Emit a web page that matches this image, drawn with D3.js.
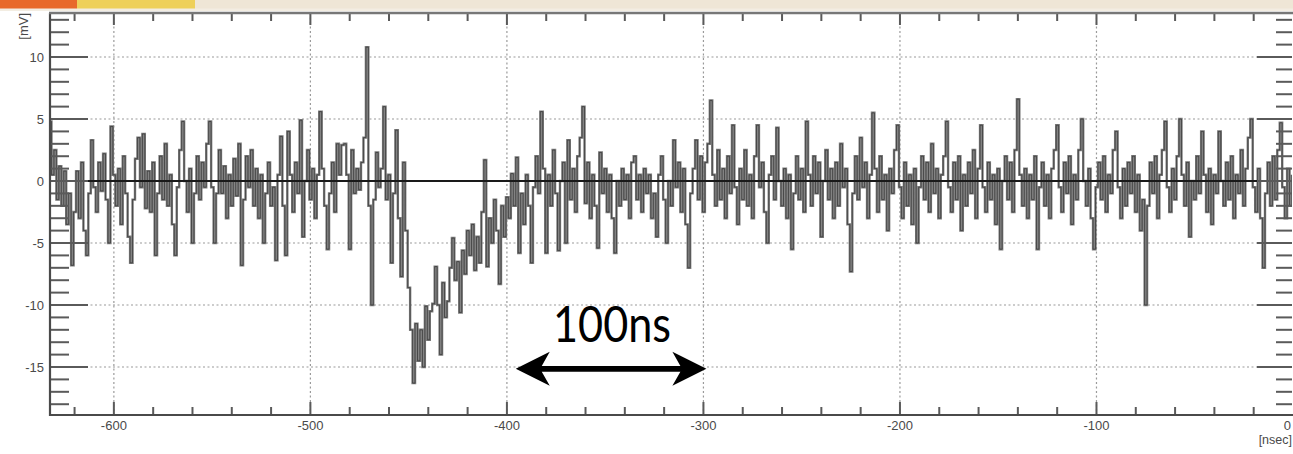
<!DOCTYPE html>
<html><head><meta charset="utf-8">
<script src="https://cdn.jsdelivr.net/npm/d3@7"></script>
<style>html,body{margin:0;padding:0;background:#fff;overflow:hidden}svg{display:block}</style>
</head><body>
<svg id="c" width="1293" height="454"></svg>
<script>
// ---------- data ----------
const xMajorTicks = [-600, -500, -400, -300, -200, -100, 0];
const xTickLabels = ["-600", "-500", "-400", "-300", "-200", "-100", "0"];
const yMajorTicks = [-15, -10, -5, 0, 5, 10];
const yTickLabels = ["-15", "-10", "-5", "0", "5", "10"];
const xTitle = "[nsec]";
const yTitle = "[mV]";
const sampleStartNs = -633;
const sampleStepNs = 1.25;
const signalMv = [
  4.8,0.5,2.5,-1.5,1.2,-2.0,0.8,-3.5,-1.0,-6.8,-2.5,0.8,-3.0,1.5,-4.0,-6.0,-1.0,3.3,-0.5,-2.5,
  1.5,-0.8,2.2,-1.5,-5.0,4.4,0.5,-2.0,1.0,-3.5,2.0,-1.0,-4.5,-6.6,-1.5,1.8,3.5,-0.5,3.8,-2.2,
  0.8,-2.5,1.5,-6.0,-1.0,2.0,-1.5,3.0,-2.0,0.5,-3.5,-6.0,-0.5,2.5,4.8,0.0,-2.5,1.0,-5.0,-1.0,
  2.0,-1.5,1.5,-0.5,3.0,4.8,-0.5,-5.0,-1.0,2.5,-1.0,1.2,-3.0,0.5,-2.0,1.8,-1.2,3.0,-6.8,-1.5,
  2.0,-0.5,2.5,-2.0,1.0,-3.0,0.5,-5.0,-1.0,1.5,-2.0,-0.5,-6.4,0.5,3.6,-2.0,-6.0,4.0,0.5,-2.5,
  1.5,-1.0,4.9,-4.5,0.0,2.5,-1.5,1.0,-3.0,0.5,5.6,1.0,-2.0,-5.5,-1.0,1.5,-2.5,3.0,0.5,2.9,
  3.0,0.5,-5.5,2.5,-1.0,1.0,-0.7,1.5,3.5,10.8,-2.0,-10.0,-1.5,2.3,-0.5,1.0,6.0,-1.5,0.5,-6.6,
  -1.0,4.1,-3.0,-7.7,1.5,-4.0,-8.6,-12.0,-16.3,-11.5,-14.5,-12.0,-15.0,-10.1,-12.8,-10.5,-9.9,-6.9,-10.0,-14.0,
  -8.2,-11.0,-9.7,-7.0,-4.6,-8.0,-6.5,-10.6,-5.6,-7.5,-4.0,-6.0,-3.5,-7.2,-4.5,-6.6,-2.5,1.7,-6.9,-3.0,
  -5.0,-1.5,-4.0,-8.3,-2.0,-4.5,-1.3,-3.0,0.6,-2.0,1.9,-5.8,-1.0,-3.5,0.5,-2.0,-6.6,-0.5,2.0,-1.0,
  5.6,1.0,-5.8,0.5,-2.0,2.5,-1.0,-5.6,0.0,1.5,-5.0,3.3,-1.5,1.0,-2.5,2.0,3.5,6.0,-1.8,1.5,
  -3.0,0.5,-2.0,-5.4,2.3,-1.0,1.0,-2.5,0.5,-3.0,-5.8,0.0,-2.0,1.0,-1.5,0.5,-3.0,1.5,2.0,-1.5,
  0.5,-2.5,1.0,-1.0,0.5,-3.0,-1.0,-4.5,0.5,2.0,-1.5,-5.0,0.0,-2.0,3.3,-0.5,1.5,-2.5,1.0,-3.5,
  -7.0,-1.0,1.0,3.3,-1.5,2.0,-2.5,1.5,3.0,6.5,0.5,-2.0,2.5,-1.5,1.0,-3.0,2.0,-1.0,4.5,-0.5,
  -3.5,1.0,-1.5,2.5,-2.0,0.5,-3.0,2.0,4.5,-0.5,1.5,-2.5,-5.0,0.5,2.0,-1.5,4.3,0.0,-2.0,1.0,
  -3.0,0.5,-5.5,-1.0,2.0,-1.5,1.0,-2.5,4.8,0.5,-2.0,2.0,-1.0,1.5,-4.5,0.0,2.5,-1.5,1.0,-3.0,
  1.5,-2.0,3.0,-0.5,1.0,-3.5,-7.3,-1.0,2.0,-1.5,3.5,-0.5,1.5,-3.0,0.5,5.5,1.0,-2.5,2.0,-1.5,
  0.5,-4.0,1.0,-1.0,2.5,4.5,-0.5,-3.0,1.5,-2.0,0.5,-3.5,1.0,-5.0,-0.5,2.0,-1.5,1.5,-2.5,3.0,
  -1.0,1.0,-3.0,0.5,2.0,4.8,-0.5,-2.5,1.5,-1.5,2.0,-4.0,0.5,-2.0,1.5,-1.0,2.5,-3.0,1.0,4.5,
  -0.5,-2.5,1.5,-1.5,0.5,-3.5,1.0,-5.5,0.0,2.0,-1.5,1.5,-2.5,2.5,6.6,0.5,-2.0,1.0,-3.0,0.5,
  -1.5,2.0,-5.5,-0.5,1.5,-2.0,0.5,-3.0,1.0,2.5,4.5,-0.5,-2.5,1.5,-1.0,2.0,-3.5,0.5,-1.5,2.5,
  5.0,0.0,-2.0,1.0,-3.0,-5.5,-0.5,1.5,-1.5,2.0,-2.5,0.5,-1.0,2.5,4.0,-0.5,-3.0,1.0,-2.0,1.5,
  -1.0,2.0,-2.5,0.5,-4.0,-1.5,-10.0,-2.0,1.5,-1.0,2.0,-3.0,0.5,2.5,4.8,-0.5,-2.5,1.0,-1.5,2.0,
  5.0,0.5,-2.0,1.5,-4.5,0.0,-1.5,2.0,-1.0,4.0,0.5,-2.5,1.0,-3.5,0.5,-1.0,4.0,0.0,-2.0,1.5,
  -1.5,2.0,-3.0,0.5,-1.0,2.5,-2.0,1.0,3.5,5.0,-0.5,-2.5,1.0,-3.0,-7.0,-1.0,1.5,-2.0,2.0,-1.5,
  2.5,4.7,-0.5,-3.0,1.0,-2.0,0.5
];
const scaleBarNs = [-395.5, -298.5];
const scaleBarMv = -15.15;
const scaleBarLabel = "100ns";

// ---------- layout ----------
const W = 1293, H = 454;
const L = 50, R = 1292, T = 13, B = 415;
const svg = d3.select("#c");

const defs = svg.append("defs");
defs.append("filter").attr("id","soft").attr("x","-1%").attr("y","-5%").attr("width","102%").attr("height","110%")
  .append("feGaussianBlur").attr("stdDeviation",0.45);

// top strip
svg.append("rect").attr("x",0).attr("y",0).attr("width",W).attr("height",11).attr("fill","#f3ede2");
svg.append("rect").attr("x",0).attr("y",0).attr("width",77).attr("height",8.5).attr("fill","#e8692b");
svg.append("rect").attr("x",77).attr("y",0).attr("width",118).attr("height",8.5).attr("fill","#eed05a");
svg.append("rect").attr("x",195).attr("y",0).attr("width",W-195).attr("height",8.5).attr("fill","#efe6d6");

const x = d3.scaleLinear().domain([-632.5, 0]).range([L, 1293]);
const y = d3.scaleLinear().domain([-18.87, 13.55]).range([B, T]);

// plot background
svg.append("rect").attr("x",L).attr("y",T).attr("width",R-L).attr("height",B-T).attr("fill","#fff");

defs.append("clipPath").attr("id","pc").append("rect")
  .attr("x",L).attr("y",T).attr("width",R-L).attr("height",B-T);

// grid
const grid = svg.append("g");
grid.selectAll("line.gx").data(xMajorTicks.filter(d => d > -632 && d < 0)).join("line")
  .attr("x1", d => x(d)).attr("x2", d => x(d)).attr("y1", T).attr("y2", B)
  .attr("stroke","#9a9a9a").attr("stroke-width",1.2).attr("stroke-dasharray","2,2.5");
grid.selectAll("line.gy").data(yMajorTicks.filter(d => d !== 0)).join("line")
  .attr("x1", L).attr("x2", R).attr("y1", d => y(d)).attr("y2", d => y(d))
  .attr("stroke","#9a9a9a").attr("stroke-width",1.2).attr("stroke-dasharray","2,2.5");

// trace
const pts = signalMv.map((v, i) => [sampleStartNs + i * sampleStepNs, v]);
const line = d3.line().x(d => x(d[0])).y(d => y(d[1])).curve(d3.curveStepAfter);
const trOuter = svg.append("g").attr("clip-path","url(#pc)");
const tr = trOuter.append("g").attr("filter","url(#soft)");
tr.append("path").attr("d", line(pts))
  .attr("fill","none").attr("stroke","#7c7c7c").attr("stroke-width",2.4);
tr.append("path").attr("d", line(pts))
  .attr("fill","none").attr("stroke","#222").attr("stroke-width",0.8).attr("stroke-opacity",0.7);

// zero line
svg.append("line").attr("x1",L).attr("x2",R).attr("y1",y(0)).attr("y2",y(0))
  .attr("stroke","#1a1a1a").attr("stroke-width",1.8);

// ticks
const tickCol = "#5a5a5a";
const axisG = svg.append("g").attr("stroke", tickCol).attr("stroke-width", 2);
const yMinor = d3.range(-18, 14, 1).filter(v => !yMajorTicks.includes(v));
// left
axisG.selectAll(null).data(yMajorTicks).join("line")
  .attr("x1",L).attr("x2",L+38).attr("y1",d=>y(d)).attr("y2",d=>y(d));
axisG.selectAll(null).data(yMinor).join("line")
  .attr("x1",L).attr("x2",L+19).attr("y1",d=>y(d)).attr("y2",d=>y(d));
// right
axisG.selectAll(null).data(yMajorTicks).join("line")
  .attr("x1",R-35).attr("x2",R).attr("y1",d=>y(d)).attr("y2",d=>y(d));
axisG.selectAll(null).data(yMinor).join("line")
  .attr("x1",R-16).attr("x2",R).attr("y1",d=>y(d)).attr("y2",d=>y(d));
// bottom / top
const xMinor = d3.range(-620, 1, 20).filter(v => !xMajorTicks.includes(v));
const xMaj = xMajorTicks.filter(d => d < 0);
axisG.selectAll(null).data(xMaj).join("line")
  .attr("x1",d=>x(d)).attr("x2",d=>x(d)).attr("y1",B).attr("y2",B-13);
axisG.selectAll(null).data(xMinor).join("line")
  .attr("x1",d=>x(d)).attr("x2",d=>x(d)).attr("y1",B).attr("y2",B-8);
axisG.selectAll(null).data(xMaj).join("line")
  .attr("x1",d=>x(d)).attr("x2",d=>x(d)).attr("y1",T).attr("y2",T+12);
axisG.selectAll(null).data(xMinor).join("line")
  .attr("x1",d=>x(d)).attr("x2",d=>x(d)).attr("y1",T).attr("y2",T+8);

// frame
svg.append("line").attr("x1",L).attr("x2",L).attr("y1",T).attr("y2",B+1).attr("stroke","#4a4a4a").attr("stroke-width",2.2);
svg.append("line").attr("x1",L-1).attr("x2",W).attr("y1",B).attr("y2",B).attr("stroke","#4a4a4a").attr("stroke-width",2.2);
svg.append("line").attr("x1",L-1).attr("x2",W).attr("y1",T).attr("y2",T).attr("stroke","#777").attr("stroke-width",2.5);

// labels
const font = "'Liberation Sans', Arial, sans-serif";
svg.append("g").selectAll("text").data(yMajorTicks).join("text")
  .attr("x", 44).attr("y", d => y(d) + 4.5).attr("text-anchor","end")
  .attr("font-family",font).attr("font-size",13).attr("fill","#4a4a4a")
  .text((d,i) => yTickLabels[i]);
svg.append("g").selectAll("text").data(xMajorTicks).join("text")
  .attr("x", d => d === 0 ? 1291 : x(d)).attr("y", 430)
  .attr("text-anchor", d => d === 0 ? "end" : "middle")
  .attr("font-family",font).attr("font-size",13).attr("fill","#4a4a4a")
  .text((d,i) => xTickLabels[i]);
svg.append("text").attr("x", 1292).attr("y", 444).attr("text-anchor","end")
  .attr("font-family",font).attr("font-size",12.5).attr("fill","#4a4a4a").text(xTitle);
svg.append("text").attr("transform","translate(28,13) rotate(-90)").attr("text-anchor","end")
  .attr("font-family",font).attr("font-size",13).attr("fill","#4a4a4a").text(yTitle);

// scale bar annotation
const ax1 = x(scaleBarNs[0]), ax2 = x(scaleBarNs[1]), ay = y(scaleBarMv);
const hl = 34, hw = 17, sw = 2.8, nb = 8;
const arrowPath = [
  [ax1, ay], [ax1 + hl, ay - hw], [ax1 + hl - nb, ay - sw], [ax2 - hl + nb, ay - sw],
  [ax2 - hl, ay - hw], [ax2, ay], [ax2 - hl, ay + hw], [ax2 - hl + nb, ay + sw],
  [ax1 + hl - nb, ay + sw], [ax1 + hl, ay + hw]
];
svg.append("path").attr("d", "M" + arrowPath.map(p => p.join(",")).join("L") + "Z").attr("fill","#000");
svg.append("text").attr("x", (ax1 + ax2) / 2 + 1).attr("y", ay - 27).attr("text-anchor","middle")
  .attr("font-family","Lato, 'Open Sans', sans-serif").attr("font-size",50).attr("fill","#000")
  .attr("textLength",118).attr("lengthAdjust","spacingAndGlyphs").text(scaleBarLabel);
</script>
</body></html>
